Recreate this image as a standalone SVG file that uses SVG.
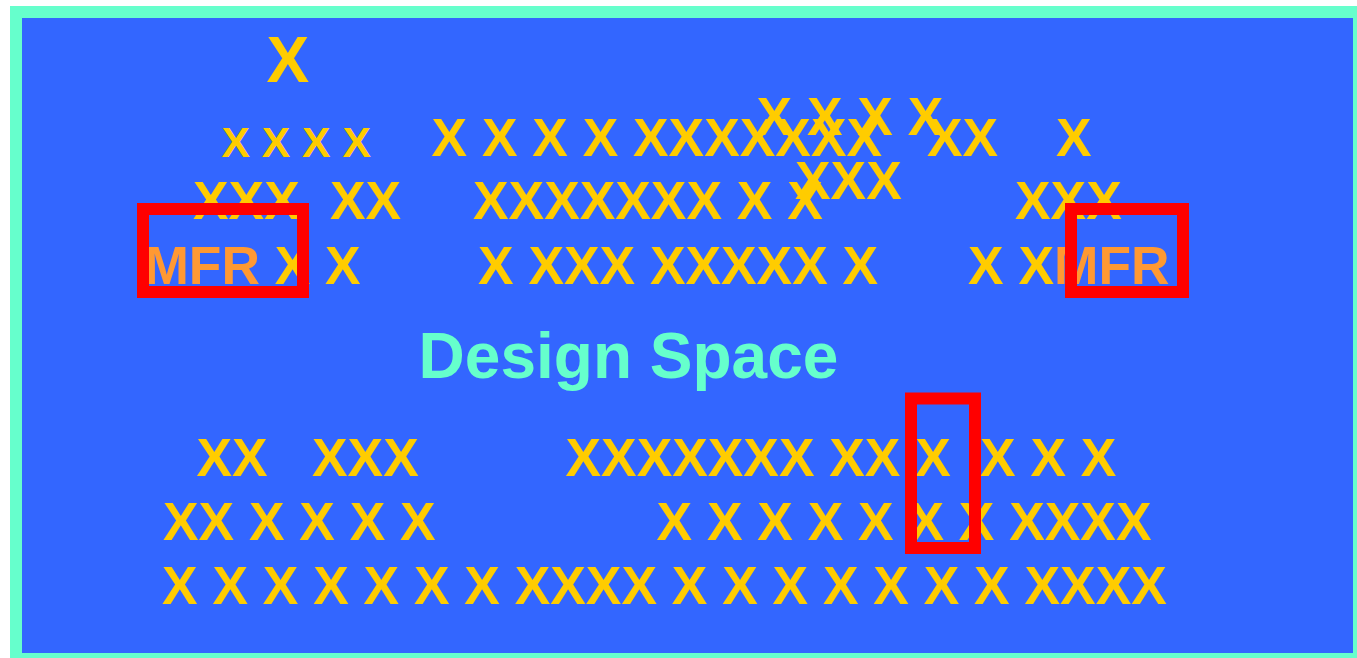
<svg xmlns="http://www.w3.org/2000/svg" width="1357" height="658" viewBox="0 0 1357 658">
<style>
.t{font-family:"Liberation Sans",Arial,sans-serif;font-weight:bold;fill:#FFCC00}
.m{font-size:53.33px}
.s{font-size:42.67px}
.b{font-size:64px}
.o{fill:#FF9933}
.d{fill:#66FFCC}
.r{fill:none;stroke:#FF0000;stroke-width:12}
</style>
<rect x="16" y="12" width="1343" height="647" fill="#3366FF" stroke="#66FFCC" stroke-width="12"/>
<g id="marks">
<text class="t b" x="266.5" y="82">X</text>
<text class="t s" x="221.5" y="157">X X X X</text>
<text class="t m" x="431.5" y="156">X X X X XXXXXXX</text>
<text class="t m" x="927" y="156">XX</text>
<text class="t m" x="1056" y="156">X</text>
<text class="t m" x="756.5" y="135">X X X X</text>
<text class="t m" x="795" y="199">XXX</text>
<text class="t m" x="193" y="219">XXX</text>
<text class="t m" x="330" y="219">XX</text>
<text class="t m" x="473" y="219">XXXXXXX X X</text>
<text class="t m" x="1015" y="219">XXX</text>
<text class="t m" x="144.4" y="284"><tspan class="o">MFR</tspan> X X</text>
<text class="t m" x="478" y="284">X XXX XXXXX X</text>
<text class="t m" x="968" y="284">X X<tspan class="o">MFR</tspan></text>
<text class="t b d" x="418.6" y="378">Design Space</text>
<text class="t m" x="196.5" y="476">XX</text>
<text class="t m" x="312" y="476">XXX</text>
<text class="t m" x="565.5" y="476">XXXXXXX XX X</text>
<text class="t m" x="980" y="476">X X X</text>
<text class="t m" x="163" y="540">XX X X X X</text>
<text class="t m" x="656.5" y="540">X X X X X X X XXXX</text>
<text class="t m" x="162" y="604">X X X X X X X XXXX X X X X X X X XXXX</text>
</g>
<g id="highlights">
<rect class="r" x="143" y="209" width="160" height="83"/>
<rect class="r" x="1071" y="209" width="112" height="83"/>
<rect class="r" x="911" y="398.5" width="64" height="149.5"/>
</g>
</svg>
